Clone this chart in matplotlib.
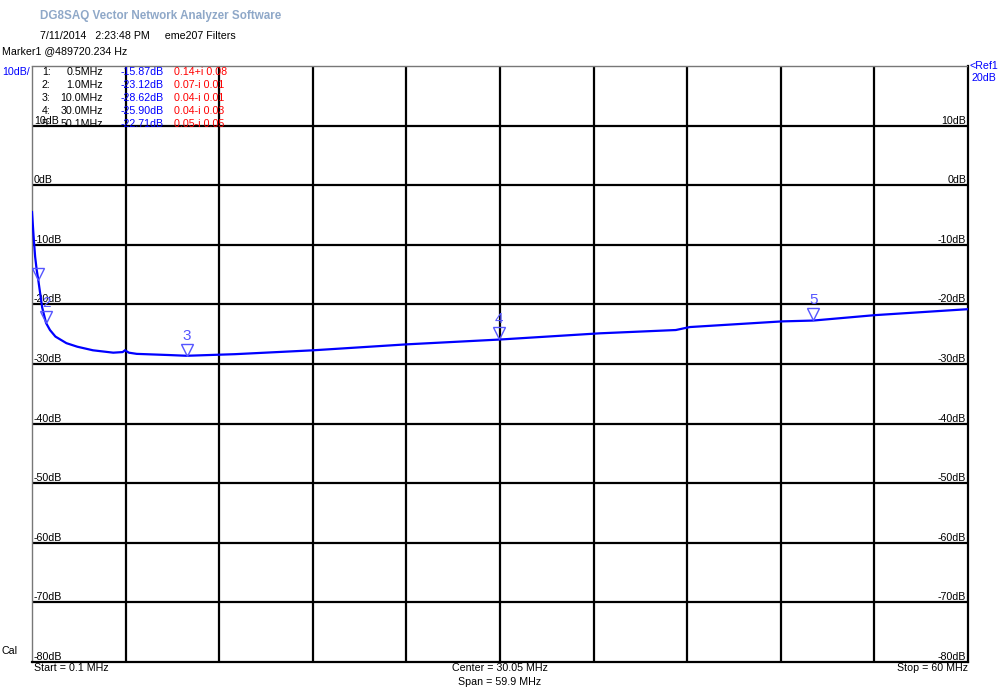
import numpy as np
import matplotlib
matplotlib.use('Agg')
import matplotlib.pyplot as plt
from matplotlib.transforms import offset_copy

plt.rcParams['font.family'] = ['Liberation Sans', 'DejaVu Sans']
FS = 7.7

# trace (MHz, dB)
freq = [0.1, 0.15, 0.2, 0.3, 0.4, 0.5, 0.75, 1.0, 1.25, 1.6, 2.3, 3.0, 4.0, 5.3, 5.9,
        6.05, 6.3, 6.8, 8.9, 10.0, 13.1, 18.1, 24.1, 30.0, 36.45, 41.3, 42.2,
        48.1, 50.1, 54.05, 60.0]
s11 = [-4.5, -6.5, -8.5, -12.0, -14.2, -15.87, -20.5, -23.12, -24.3, -25.4, -26.5,
       -27.1, -27.7, -28.1, -28.0, -27.7, -28.1, -28.3, -28.5, -28.62, -28.35,
       -27.7, -26.7, -25.9, -24.85, -24.3, -23.8, -22.85, -22.71, -21.8, -20.8]

# marker table
mk_freq = [0.5, 1.0, 10.0, 30.0, 50.1]
mk_db = [-15.87, -23.12, -28.62, -25.90, -22.71]
mk_freq_txt = ['0.5MHz', '1.0MHz', '10.0MHz', '30.0MHz', '50.1MHz']
mk_cplx = ['0.14+i 0.08', '0.07-i 0.01', '0.04-i 0.01', '0.04-i 0.03', '0.05-i 0.05']
mk_show_num = [False, True, True, True, True]

f_start, f_stop = 0.1, 60.0
ref, per_div = 20, 10

fig = plt.figure(figsize=(10, 6.89), dpi=100)
W, H = 1000, 689
x0, x1, y0, y1 = 32, 968, 66, 662
ax = fig.add_axes([x0 / W, 1 - y1 / H, (x1 - x0) / W, (y1 - y0) / H])
ax.set_xlim(f_start, f_stop)
ax.set_ylim(ref - 10 * per_div, ref)

xg = np.linspace(f_start, f_stop, 11)
yg = np.arange(ref - 10 * per_div, ref + 1, per_div)
for x in xg[1:-1]:
    ax.axvline(x, color='black', lw=1.6, zorder=1)
for y in yg[1:-1]:
    ax.axhline(y, color='black', lw=1.6, zorder=1)
ax.set_xticks([])
ax.set_yticks([])
for side in ['top', 'left']:
    ax.spines[side].set_linestyle((0, (1, 1)))
    ax.spines[side].set_color('#777777')
    ax.spines[side].set_linewidth(1)
for side in ['right', 'bottom']:
    ax.spines[side].set_linewidth(1.6)

# dB labels on both sides
for y in yg[:-1]:
    lab = f'{int(y)}dB'
    ax.text(0.002, y, lab, transform=ax.get_yaxis_transform(), fontsize=FS,
            va='bottom', ha='left', zorder=3)
    ax.text(0.998, y, lab, transform=ax.get_yaxis_transform(), fontsize=FS,
            va='bottom', ha='right', zorder=3)

ax.plot(freq, s11, color='#0000ff', lw=1.6, zorder=4)

# markers
tri = offset_copy(ax.transData, fig=fig, y=4.5, units='points')
num = offset_copy(ax.transData, fig=fig, y=9.5, units='points')
for f, d, show, i in zip(mk_freq, mk_db, mk_show_num, range(1, 6)):
    ax.plot(f, d, marker='v', ms=9, mfc='none', mec='#5555ff', mew=1,
            transform=tri, zorder=5)
    if show:
        ax.text(f, d, str(i), transform=num, color='#5555ff', fontsize=11,
                ha='center', va='bottom', zorder=5)

# marker readout table
for k in range(5):
    yy = 1 - (72 + 13 * k) / H
    fig.text(42 / W, yy, f'{k + 1}:', fontsize=FS, va='center')
    fig.text(103 / W, yy, mk_freq_txt[k], fontsize=FS, va='center', ha='right')
    fig.text(121 / W, yy, f'{mk_db[k]:.2f}dB', fontsize=FS, va='center', color='#0000ff')
    fig.text(174 / W, yy, mk_cplx[k], fontsize=FS, va='center', color='#ff0000')

# header and footer text
fig.text(40 / W, 1 - 16 / H, 'DG8SAQ Vector Network Analyzer Software', fontsize=8.4,
         fontweight='bold', color='#8fa8c8', va='center')
fig.text(40 / W, 1 - 36 / H, '7/11/2014   2:23:48 PM     eme207 Filters', fontsize=FS, va='center')
fig.text(2 / W, 1 - 51 / H, 'Marker1 @489720.234 Hz', fontsize=FS, va='center')
fig.text(2 / W, 1 - 72 / H, '10dB/', fontsize=FS, va='center', color='#0000ff')
fig.text(970 / W, 1 - 66 / H, '<Ref1', fontsize=FS, va='center', color='#0000ff')
fig.text(972 / W, 1 - 78 / H, '20dB', fontsize=FS, va='center', color='#0000ff')
fig.text(2 / W, 1 - 651 / H, 'Cal', fontsize=FS, va='center')
fig.text(34 / W, 1 - 668 / H, 'Start = 0.1 MHz', fontsize=FS, va='center')
fig.text(500 / W, 1 - 668 / H, 'Center = 30.05 MHz', fontsize=FS, va='center', ha='center')
fig.text(500 / W, 1 - 682 / H, 'Span = 59.9 MHz', fontsize=FS, va='center', ha='center')
fig.text(968 / W, 1 - 668 / H, 'Stop = 60 MHz', fontsize=FS, va='center', ha='right')

fig.savefig('out.png', dpi=100)
